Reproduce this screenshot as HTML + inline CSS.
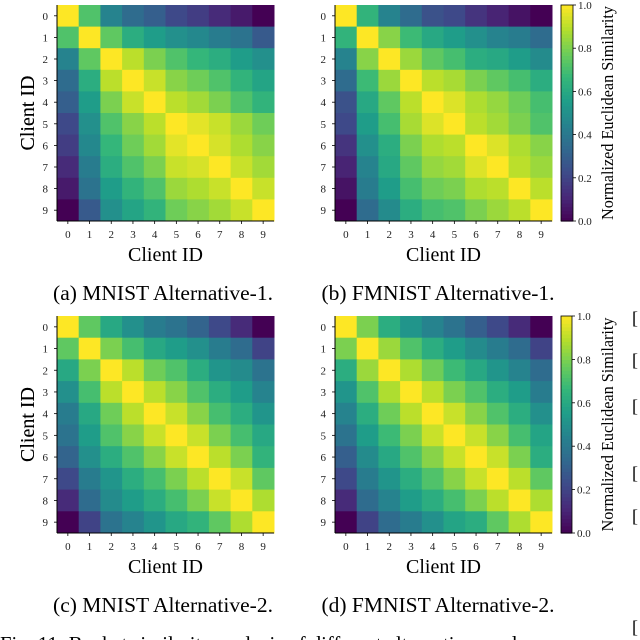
<!DOCTYPE html>
<html><head><meta charset="utf-8"><style>
html,body{margin:0;padding:0;background:#fff;}
svg{display:block;font-family:"Liberation Serif",serif;}
</style></head><body>
<svg id="fig" width="640" height="640" viewBox="0 0 640 640" xmlns="http://www.w3.org/2000/svg"></svg>
<script>
const clientIds = ["0","1","2","3","4","5","6","7","8","9"];
const cbarTicks = [0,0.2,0.4,0.6,0.8,1.0];
const cbarTickLabels = ["0.0","0.2","0.4","0.6","0.8","1.0"];
const mnistAlt1 = [
[1,.72,.45,.35,.3,.22,.18,.12,.07,0],
[.72,1,.75,.62,.55,.5,.47,.42,.38,.28],
[.45,.75,1,.9,.8,.72,.66,.62,.55,.5],
[.35,.62,.9,1,.92,.82,.78,.72,.65,.58],
[.3,.55,.8,.92,1,.9,.86,.8,.72,.65],
[.22,.5,.72,.82,.9,1,.96,.92,.85,.78],
[.18,.47,.66,.78,.86,.96,1,.94,.88,.82],
[.12,.42,.62,.72,.8,.92,.94,1,.92,.86],
[.07,.38,.55,.65,.72,.85,.88,.92,1,.92],
[0,.28,.5,.58,.65,.78,.82,.86,.92,1]];
const fmnistAlt1 = [
[1,.65,.45,.35,.25,.22,.15,.1,.05,0],
[.65,1,.82,.68,.6,.55,.5,.45,.42,.35],
[.45,.82,1,.85,.75,.7,.62,.6,.55,.48],
[.35,.68,.85,1,.9,.87,.8,.75,.7,.62],
[.25,.6,.75,.9,1,.95,.88,.84,.78,.7],
[.22,.55,.7,.87,.95,1,.9,.86,.8,.72],
[.15,.5,.62,.8,.88,.9,1,.95,.88,.82],
[.1,.45,.6,.75,.84,.86,.95,1,.9,.85],
[.05,.42,.55,.7,.78,.8,.88,.9,1,.9],
[0,.35,.48,.62,.7,.72,.8,.85,.9,1]];
const mnistAlt2 = [
[1,.75,.6,.5,.42,.38,.32,.22,.12,0],
[.75,1,.8,.7,.6,.55,.5,.42,.35,.2],
[.6,.8,1,.9,.78,.72,.62,.52,.48,.38],
[.5,.7,.9,1,.9,.82,.72,.62,.55,.45],
[.42,.6,.78,.9,1,.92,.82,.7,.62,.52],
[.38,.55,.72,.82,.92,1,.92,.8,.7,.6],
[.32,.5,.62,.72,.82,.92,1,.9,.8,.65],
[.22,.42,.52,.62,.7,.8,.9,1,.92,.75],
[.12,.35,.48,.55,.62,.7,.8,.92,1,.88],
[0,.2,.38,.45,.52,.6,.65,.75,.88,1]];
const fmnistAlt2 = [
[1,.8,.62,.52,.45,.38,.3,.22,.12,0],
[.8,1,.85,.72,.62,.55,.48,.42,.35,.2],
[.62,.85,1,.88,.78,.68,.6,.52,.45,.35],
[.52,.72,.88,1,.9,.8,.72,.62,.55,.42],
[.45,.62,.78,.9,1,.92,.82,.72,.62,.5],
[.38,.55,.68,.8,.92,1,.92,.82,.7,.58],
[.3,.48,.6,.72,.82,.92,1,.92,.8,.62],
[.22,.42,.52,.62,.72,.82,.92,1,.9,.75],
[.12,.35,.45,.55,.62,.7,.8,.9,1,.88],
[0,.2,.35,.42,.5,.58,.62,.75,.88,1]];

const NS="http://www.w3.org/2000/svg";
const svg=document.getElementById('fig');
const VIR=[[68,1,84],[72,40,120],[62,74,137],[49,104,142],[38,130,142],[31,158,137],[53,183,121],[109,205,89],[180,222,44],[253,231,37]];
function viridis(v){v=Math.max(0,Math.min(1,v));const t=v*9,i=Math.min(8,Math.floor(t)),f=t-i;const a=VIR[i],b=VIR[i+1];
return 'rgb('+a.map((c,k)=>Math.round(c+(b[k]-c)*f)).join(',')+')';}
function mk(tag,attrs,parent,txt){const e=document.createElementNS(NS,tag);for(const k in attrs)e.setAttribute(k,attrs[k]);if(txt!==undefined)e.textContent=txt;(parent||svg).appendChild(e);return e;}

function heatmap(name,data,x0,y0,w,h,caption,cx,capY){
  const g=mk('g',{});
  
  
  const n=clientIds.length, cw=w/n, ch=h/n;
  const xs=i=>x0+i*cw, ys=j=>y0+j*ch;
  data.forEach((row,r)=>row.forEach((v,c)=>{
    const rc=mk('rect',{x:xs(c),y:ys(r),width:cw+0.5,height:ch+0.5,fill:viridis(v)},g);
    
    
  }));
  mk('line',{x1:x0,y1:y0,x2:x0,y2:y0+h,stroke:'#000','stroke-width':1},g);
  mk('line',{x1:x0,y1:y0+h,x2:x0+w,y2:y0+h,stroke:'#000','stroke-width':1},g);
  clientIds.forEach((id,i)=>{
    const tx=xs(i)+cw/2, ty=ys(i)+ch/2;
    mk('line',{x1:tx,y1:y0+h,x2:tx,y2:y0+h+3,stroke:'#000','stroke-width':0.8},g);
    const xl=mk('text',{x:tx,y:y0+h+17,'font-size':11,'text-anchor':'middle',fill:'#222'},g,id);
    
    
    mk('line',{x1:x0-3,y1:ty,x2:x0,y2:ty,stroke:'#000','stroke-width':0.8},g);
    const yl=mk('text',{x:x0-9,y:ty+4,'font-size':11,'text-anchor':'end',fill:'#222'},g,id);
    
    
  });
  const xt=mk('text',{x:x0+w/2,y:y0+h+40,'font-size':20,'text-anchor':'middle'},g,'Client ID');
  
  
  const yc=y0+h/2;
  const yt=mk('text',{x:34,y:yc,'font-size':20,'text-anchor':'middle',transform:'rotate(-90 34 '+yc+')'},g,'Client ID');
  
  
  const cp=mk('text',{x:cx,y:capY,'font-size':21.5,'text-anchor':'middle'},svg,caption);
  
  
}
function colorbar(name,x0,y0,w,h){
  const g=mk('g',{});
  
  
  const steps=60;
  for(let i=0;i<steps;i++){
    mk('rect',{x:x0,y:y0+h-(i+1)*h/steps,width:w,height:h/steps+0.6,fill:viridis((i+0.5)/steps)},g);
  }
  mk('rect',{x:x0,y:y0,width:w,height:h,fill:'none',stroke:'#000','stroke-width':0.8},g);
  const ys=v=>y0+h-v*h;
  cbarTicks.forEach((v,i)=>{
    mk('line',{x1:x0+w,y1:ys(v),x2:x0+w+3,y2:ys(v),stroke:'#000','stroke-width':0.8},g);
    const t=mk('text',{x:x0+w+5,y:ys(v)+4,'font-size':11,fill:'#222'},g,cbarTickLabels[i]);
    
    
  });
  const lx=613, ly=y0+h/2;
  const lt=mk('text',{x:lx,y:ly,'font-size':17,'text-anchor':'middle',textLength:214,lengthAdjust:'spacingAndGlyphs',transform:'rotate(-90 '+lx+' '+ly+')'},g,'Normalized Euclidean Similarity');
  
  
}
heatmap('heatmap-mnist-alt1',mnistAlt1,57,5,217,216,'(a) MNIST Alternative-1.',163,300);
heatmap('heatmap-fmnist-alt1',fmnistAlt1,335,5,217,216,'(b) FMNIST Alternative-1.',438,300);
heatmap('heatmap-mnist-alt2',mnistAlt2,57,316,217,217,'(c) MNIST Alternative-2.',163,612);
heatmap('heatmap-fmnist-alt2',fmnistAlt2,335,316,217,217,'(d) FMNIST Alternative-2.',438,612);
colorbar('colorbar-top',561,5,12,216);
colorbar('colorbar-bottom',561,316,11,217);
[324,366,412,479,522,633].forEach(y=>{
  const b=mk('text',{x:632,y:y,'font-size':18},svg,'[');
  
  
});
const fc=mk('text',{x:0,y:651,'font-size':21,textLength:517,lengthAdjust:'spacingAndGlyphs'},svg,'Fig. 11: Bucket similarity analysis of different alternatives and');


</script>
</body></html>
